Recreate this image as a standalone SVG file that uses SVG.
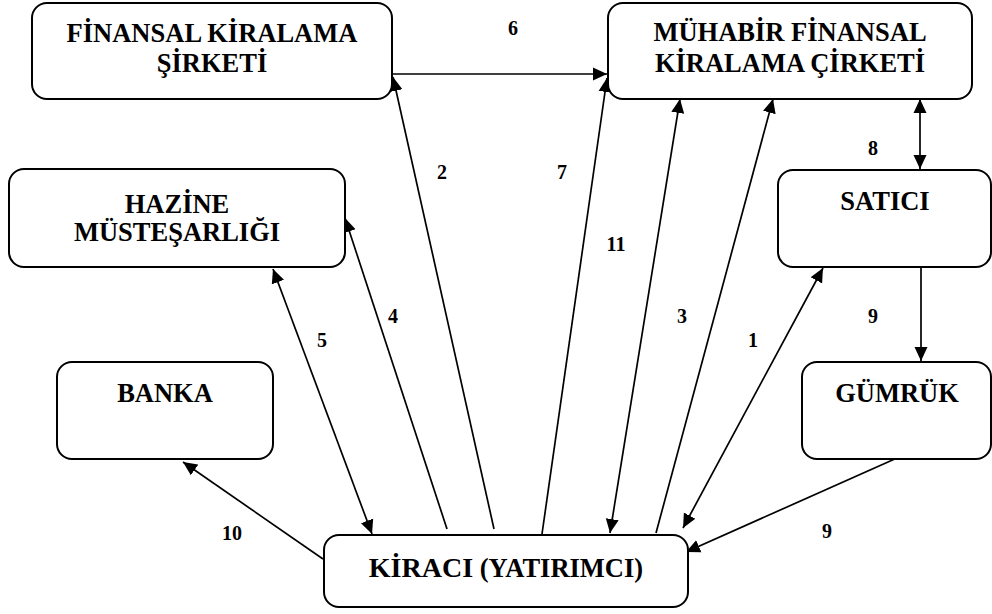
<svg xmlns="http://www.w3.org/2000/svg" width="992" height="614" viewBox="0 0 992 614">
<style>
.box{fill:#fff;stroke:#000;stroke-width:2}
.t{font-family:"Liberation Serif","Times New Roman",serif;font-weight:bold;font-size:26.5px;text-anchor:middle;fill:#000}
.n{font-family:"Liberation Serif","Times New Roman",serif;font-weight:bold;font-size:20px;text-anchor:middle;fill:#000}
.c{fill:none;stroke:#000;stroke-width:1.7}
</style>
<defs>
<marker id="ah" markerUnits="userSpaceOnUse" markerWidth="15" markerHeight="14" refX="14" refY="7" orient="auto-start-reverse" viewBox="0 0 15 14">
<path d="M0,0.5 L14,7 L0,13.5 z" fill="#000"/>
</marker>
</defs>
<rect width="992" height="614" fill="#fff"/>
<g id="connectors">
<line class="c" x1="392" y1="74" x2="607" y2="74" marker-end="url(#ah)"/>
<line class="c" x1="494" y1="529" x2="393" y2="77" marker-end="url(#ah)"/>
<line class="c" x1="447" y1="529" x2="345" y2="218" marker-end="url(#ah)"/>
<line class="c" x1="372" y1="534" x2="273" y2="269" marker-start="url(#ah)" marker-end="url(#ah)"/>
<line class="c" x1="542" y1="534" x2="607" y2="78" marker-end="url(#ah)"/>
<line class="c" x1="610" y1="533" x2="680" y2="99" marker-start="url(#ah)" marker-end="url(#ah)"/>
<line class="c" x1="656" y1="533" x2="773" y2="99" marker-end="url(#ah)"/>
<line class="c" x1="683" y1="528" x2="823" y2="268" marker-start="url(#ah)" marker-end="url(#ah)"/>
<line class="c" x1="920" y1="99" x2="920" y2="169" marker-start="url(#ah)" marker-end="url(#ah)"/>
<line class="c" x1="921" y1="267" x2="921" y2="361" marker-end="url(#ah)"/>
<line class="c" x1="897" y1="458" x2="686" y2="552" marker-end="url(#ah)"/>
<line class="c" x1="323" y1="559" x2="183" y2="462" marker-end="url(#ah)"/>
</g>
<g id="labels">
<text class="n" x="513" y="35">6</text>
<text class="n" x="442" y="179">2</text>
<text class="n" x="562" y="179">7</text>
<text class="n" x="873" y="155">8</text>
<text class="n" x="616" y="251">11</text>
<text class="n" x="393" y="323">4</text>
<text class="n" x="322" y="347">5</text>
<text class="n" x="682" y="323">3</text>
<text class="n" x="753" y="347">1</text>
<text class="n" x="873" y="323">9</text>
<text class="n" x="232" y="540">10</text>
<text class="n" x="827" y="538">9</text>
</g>
<g id="finansal">
<rect class="box" x="32" y="3" width="360" height="96" rx="15"/>
<text class="t" x="212" y="42">FİNANSAL KİRALAMA</text>
<text class="t" x="212" y="72">ŞİRKETİ</text>
</g>
<g id="muhabir">
<rect class="box" x="608" y="3" width="364" height="96" rx="15"/>
<text class="t" x="790" y="41">MÜHABİR FİNANSAL</text>
<text class="t" x="790" y="72">KİRALAMA ÇİRKETİ</text>
</g>
<g id="hazine">
<rect class="box" x="9" y="169" width="336" height="98" rx="15"/>
<text class="t" x="177" y="213">HAZİNE</text>
<text class="t" x="177" y="241">MÜSTEŞARLIĞI</text>
</g>
<g id="satici">
<rect class="box" x="778" y="170" width="213" height="97" rx="15"/>
<text class="t" x="885" y="210">SATICI</text>
</g>
<g id="banka">
<rect class="box" x="57" y="362" width="216" height="97" rx="15"/>
<text class="t" x="165" y="402">BANKA</text>
</g>
<g id="gumruk">
<rect class="box" x="802" y="362" width="189" height="97" rx="15"/>
<text class="t" x="897" y="402">GÜMRÜK</text>
</g>
<g id="kiraci">
<rect class="box" x="324" y="535" width="364" height="72" rx="15"/>
<text class="t" x="506" y="577"><tspan font-size="28">KİRACI</tspan> (YATIRIMCI)</text>
</g>
</svg>
